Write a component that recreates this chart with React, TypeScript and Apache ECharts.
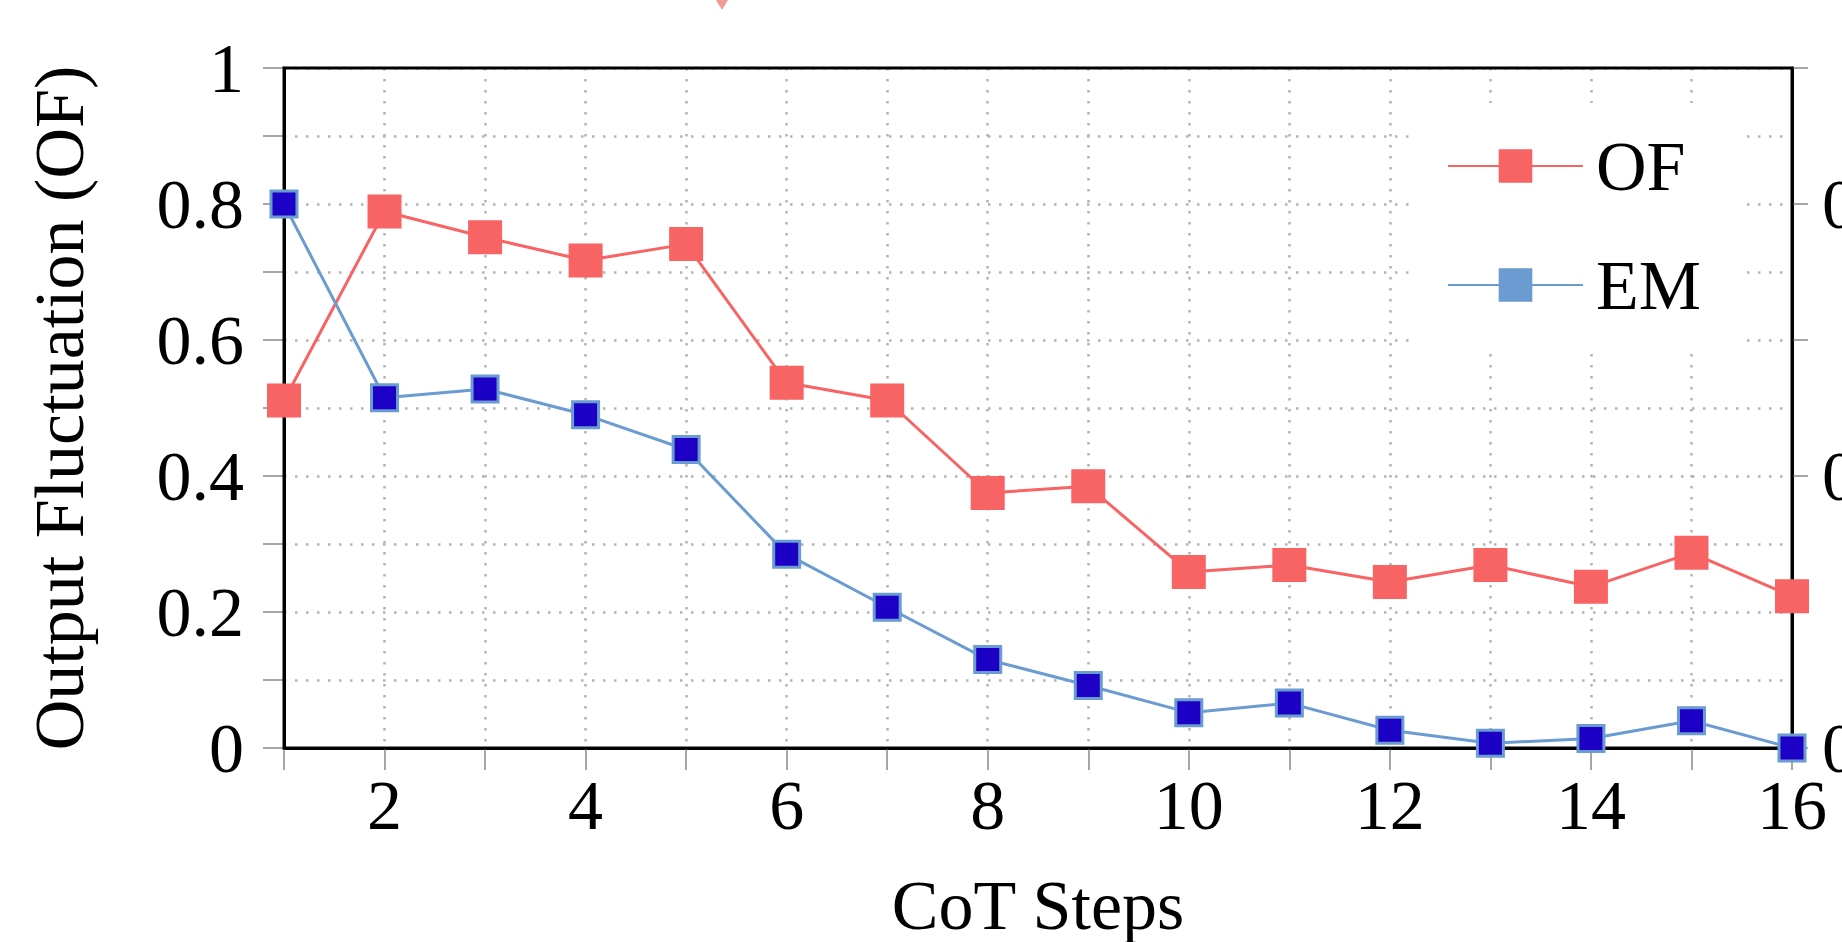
import React, { useEffect, useRef } from "react";
import * as echarts from "echarts";

const steps = [1, 2, 3, 4, 5, 6, 7, 8, 9, 10, 11, 12, 13, 14, 15, 16];
const ofValues = [0.511, 0.789, 0.751, 0.717, 0.741, 0.537, 0.511, 0.375, 0.385, 0.259, 0.269, 0.244, 0.269, 0.237, 0.287, 0.223];
const emValues = [0.8, 0.515, 0.528, 0.49, 0.439, 0.285, 0.207, 0.13, 0.092, 0.052, 0.066, 0.026, 0.007, 0.014, 0.04, 0.0];
const seriesNames = ["OF", "EM"];
const xTitle = "CoT Steps";
const yTitle = "Output Fluctuation (OF)";

const FONT = "'Liberation Serif', 'Times New Roman', serif";
const RED = "#f86363";
const BLUE_LINE = "#6a9bd1";
const BLUE_FILL = "#1c00c6";

export default function App() {
  const ref = useRef<HTMLDivElement>(null);
  useEffect(() => {
    if (!ref.current) return;
    const chart = echarts.init(ref.current, null, { renderer: "svg" });
    const grid = "#b3b3b3";
    const option: any = {
      animation: false,
      backgroundColor: "#ffffff",
      grid: {
        left: 284,
        right: 50,
        top: 68,
        bottom: 194,
        containLabel: false,
        outerBoundsMode: "none",
        show: true,
        z: 2,
        borderColor: "#000",
        borderWidth: 3,
        backgroundColor: "transparent",
      },
      legend: {
        orient: "vertical",
        left: 1415,
        top: 103,
        padding: [28, 42, 34, 32],
        backgroundColor: "#ffffff",
        itemWidth: 135,
        itemHeight: 42,
        itemGap: 49,
        textStyle: { fontFamily: FONT, fontSize: 70, color: "#000", padding: [0, 0, 0, 8] },
        data: [
          { name: seriesNames[0], itemStyle: { color: RED, borderWidth: 0 } },
          { name: seriesNames[1], itemStyle: { color: BLUE_LINE, borderWidth: 0 } },
        ],
        z: 10,
      },
      xAxis: {
        type: "value",
        min: 1,
        max: 16,
        interval: 1,
        name: xTitle,
        nameLocation: "middle",
        nameGap: 122,
        nameTextStyle: { fontFamily: FONT, fontSize: 70, color: "#000" },
        axisLine: { show: true, onZero: false, lineStyle: { color: "#000", width: 3 } },
        axisTick: { show: true, length: 22, lineStyle: { color: "#888", width: 1.5 } },
        axisLabel: {
          fontFamily: FONT,
          fontSize: 70,
          color: "#000",
          margin: 22,
          formatter: (v: number) => (v % 2 === 0 ? String(v) : ""),
        },
        splitLine: { show: true, lineStyle: { color: grid, width: 2.5, type: [2.5, 8.5] } },
      },
      yAxis: [
        {
          type: "value",
          min: 0,
          max: 1,
          interval: 0.1,
          name: yTitle,
          nameLocation: "middle",
          nameGap: 190,
          nameTextStyle: { fontFamily: FONT, fontSize: 70, color: "#000" },
          axisLine: { show: true, lineStyle: { color: "#000", width: 3 } },
          axisTick: { show: true, length: 21, lineStyle: { color: "#888", width: 1.5 } },
          axisLabel: {
            fontFamily: FONT,
            fontSize: 70,
            color: "#000",
            margin: 40,
            formatter: (v: number) => {
              const k = Math.round(v * 10);
              if (k % 2 !== 0) return "";
              if (k === 0) return "0";
              if (k === 10) return "1";
              return (k / 10).toFixed(1);
            },
          },
          splitLine: { show: true, lineStyle: { color: grid, width: 2.5, type: [2.5, 8.5] } },
        },
        {
          type: "value",
          position: "right",
          min: 0,
          max: 1,
          interval: 0.2,
          axisLine: { show: true, lineStyle: { color: "#000", width: 3 } },
          axisTick: { show: true, length: 16, lineStyle: { color: "#888", width: 1.5 } },
          axisLabel: {
            fontFamily: FONT,
            fontSize: 70,
            color: "#000",
            margin: 30,
            formatter: (v: number) => {
              const k = Math.round(v * 10);
              if (k % 4 !== 0) return "";
              return k === 0 ? "0" : (k / 10).toFixed(1);
            },
          },
          splitLine: { show: false },
        },
      ],
      series: [
        {
          name: seriesNames[0],
          type: "line",
          data: steps.map((s, i) => [s, ofValues[i]]),
          symbol: "rect",
          symbolSize: 34,
          clip: false,
          z: 3,
          lineStyle: { color: RED, width: 3 },
          itemStyle: { color: RED, borderWidth: 0 },
        },
        {
          name: seriesNames[1],
          type: "line",
          data: steps.map((s, i) => [s, emValues[i]]),
          symbol: "rect",
          symbolSize: 26,
          clip: false,
          z: 4,
          lineStyle: { color: BLUE_LINE, width: 3 },
          itemStyle: { color: BLUE_FILL, borderColor: BLUE_LINE, borderWidth: 3 },
        },
      ],
      graphic: [
        {
          type: "polygon",
          shape: { points: [[716, 0], [728, 0], [722, 10]] },
          style: { fill: "#f09a9a" },
        },
      ],
    };
    chart.setOption(option);
    return () => chart.dispose();
  }, []);
  return (
    <div
      ref={ref}
      style={{ position: "fixed", left: 0, top: 0, width: 1842, height: 942, background: "#fff" }}
    />
  );
}
